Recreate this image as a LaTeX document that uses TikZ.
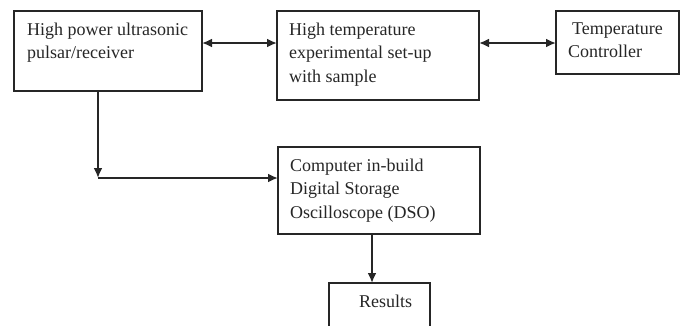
\documentclass[tikz,border=0pt]{standalone}
\usepackage{fontspec}
\setmainfont{Liberation Serif}
\usetikzlibrary{arrows.meta}
\begin{document}
\begin{tikzpicture}[x=1bp,y=-1bp,
  box/.style={draw=black!85,line width=2bp,inner sep=0pt,outer sep=0pt,anchor=north west},
  txt/.style={inner sep=0pt,anchor=base west,text=black!85,font=\fontsize{18bp}{23.8bp}\selectfont},
  conn/.style={draw=black!85,line width=2bp},
  tip/.style={-{Latex[length=10bp,width=9bp]}},
  both/.style={{Latex[length=10bp,width=9bp]}-{Latex[length=10bp,width=9bp]}}]
\useasboundingbox (0,0) rectangle (682,325);
\clip (0,0) rectangle (682,325);
% boxes
\node[box,minimum width=188bp,minimum height=80bp] (b1) at (14,11) {};
\node[box,minimum width=202bp,minimum height=89bp] (b2) at (277,11) {};
\node[box,minimum width=123bp,minimum height=63bp] (b3) at (556,11) {};
\node[box,minimum width=202bp,minimum height=87bp] (b4) at (278,147) {};
\node[box,minimum width=101bp,minimum height=60bp] (b5) at (329,283) {};
% texts
\node[txt] (t1) at (27,35) {\begin{tabular}[t]{@{}l@{}}High power ultrasonic\\pulsar/receiver\end{tabular}};
\node[txt] (t2) at (289,35) {\begin{tabular}[t]{@{}l@{}}High temperature\\experimental set-up\\with sample\end{tabular}};
\node[txt] (t3) at (568,34) {\begin{tabular}[t]{@{}l@{}}\hspace{4bp}Temperature\\Controller\end{tabular}};
\node[txt] (t4) at (290,171) {\begin{tabular}[t]{@{}l@{}}Computer in-build\\Digital Storage\\Oscilloscope (DSO)\end{tabular}};
\node[txt] (t5) at (359,307) {Results};
% connectors
\draw[conn,both] (b1.east |- 0,43) -- (b2.west |- 0,43);
\draw[conn,both] (b2.east |- 0,43) -- (b3.west |- 0,43);
\coordinate (c1) at (98,178);
\draw[conn,tip] (b1.south -| c1) -- (c1);
\draw[conn,tip] (c1) -- (b4.west |- c1);
\coordinate (c2) at (372,234);
\draw[conn,tip] (b4.south -| c2) -- (b5.north -| c2);
\end{tikzpicture}
\end{document}
